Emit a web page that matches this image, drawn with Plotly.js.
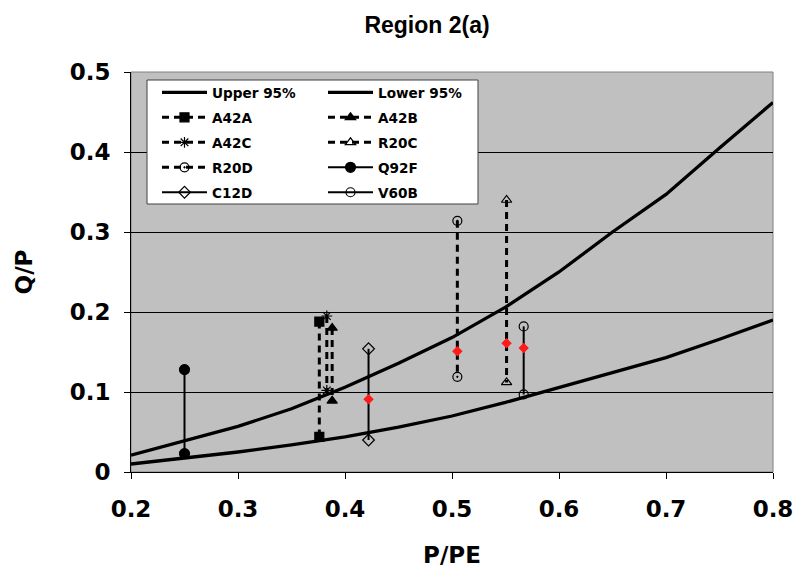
<!DOCTYPE html>
<html>
<head>
<meta charset="utf-8">
<script src="https://cdn.plot.ly/plotly-3.0.1.min.js"></script>
<style>html,body{margin:0;padding:0;background:#fff;}#chart{width:797px;height:573px;}</style>
</head>
<body>
<div id="chart"></div>
<script>
// ---- data ----
const pe = [0.2, 0.25, 0.3, 0.35, 0.4, 0.45, 0.5, 0.55, 0.6, 0.65, 0.7, 0.75, 0.8];
const upper95 = [0.021, 0.039, 0.057, 0.079, 0.106, 0.136, 0.168, 0.206, 0.25, 0.3, 0.347, 0.405, 0.462];
const lower95 = [0.010, 0.017, 0.025, 0.034, 0.044, 0.056, 0.070, 0.087, 0.106, 0.124, 0.143, 0.166, 0.190];

const specimenNames = ['A42A', 'A42B', 'A42C', 'R20C', 'R20D', 'Q92F', 'C12D', 'V60B'];
const specimenX     = [0.376, 0.388, 0.383, 0.551, 0.505, 0.25, 0.422, 0.567];
const specimenHigh  = [0.188, 0.180, 0.195, 0.340, 0.314, 0.128, 0.154, 0.182];
const specimenLow   = [0.044, 0.089, 0.102, 0.112, 0.119, 0.023, 0.040, 0.097];

const midX = [0.422, 0.505, 0.551, 0.567];
const midY = [0.091, 0.151, 0.161, 0.155];

const xTicks = [0.2, 0.3, 0.4, 0.5, 0.6, 0.7, 0.8];
const yTicks = [0, 0.1, 0.2, 0.3, 0.4, 0.5];

// ---- styles ----
const styles = {
  A42A: {symbol: 'square', dash: '7px,5px', legend: 'legend'},
  A42B: {symbol: 'triangle-up', dash: '7px,5px', legend: 'legend2'},
  A42C: {symbol: 'asterisk-open', dash: '7px,5px', legend: 'legend'},
  R20C: {symbol: 'triangle-up-open', dash: '7px,5px', legend: 'legend2'},
  R20D: {symbol: 'circle-open-dot', dash: '7px,5px', legend: 'legend'},
  Q92F: {symbol: 'circle', dash: 'solid', legend: 'legend2'},
  C12D: {symbol: 'diamond-open', dash: 'solid', legend: 'legend'},
  V60B: {symbol: 'circle-open', dash: 'solid', legend: 'legend2'}
};

const legendFont = {family: 'DejaVu Sans', size: 13.6, weight: 'bold', color: '#000'};

const traces = [];
traces.push({x: pe, y: upper95, name: 'Upper 95%', mode: 'lines', type: 'scatter',
  line: {color: '#000', width: 3.3}, legend: 'legend', legendgroup: 'g_up'});
traces.push({x: pe, y: lower95, name: 'Lower 95%', mode: 'lines', type: 'scatter',
  line: {color: '#000', width: 3.3}, legend: 'legend2', legendgroup: 'g_lo'});

specimenNames.forEach((n, i) => {
  const s = styles[n];
  const solid = s.dash === 'solid';
  traces.push({
    x: [specimenX[i], specimenX[i]],
    y: [specimenHigh[i], specimenLow[i]],
    name: n, type: 'scatter', mode: 'lines+markers',
    legend: s.legend, legendgroup: 'g_' + n,
    line: {color: '#000', width: solid ? 2 : 3, dash: s.dash},
    marker: {symbol: s.symbol, size: (s.symbol === 'circle' ? 10 : 9), color: '#000',
             line: {color: '#000', width: 1.2}},
    cliponaxis: false
  });
});

traces.push({x: midX, y: midY, name: 'mid', type: 'scatter', mode: 'markers',
  showlegend: false, marker: {symbol: 'diamond', size: 8, color: '#ff1a1a'}});

const W = 797, H = 573;
const L = 131, R = 24, T = 72, B = 101;
const pw = W - L - R, ph = H - T - B;
const px = v => (v - L) / pw;
const py = v => (H - B - v) / ph;

const tickFont = {family: 'DejaVu Sans', size: 23, weight: 'bold', color: '#000'};

const layout = {
  width: W, height: H,
  margin: {l: L, r: R, t: T, b: B, pad: 0},
  paper_bgcolor: '#ffffff',
  plot_bgcolor: '#c0c0c0',
  showlegend: true,
  title: {text: 'Region 2(a)', font: {family: 'Liberation Sans', size: 23, weight: 'bold', color: '#000'},
          xref: 'paper', x: px(427), xanchor: 'center', yref: 'container', y: 1 - 25 / H, yanchor: 'middle'},
  xaxis: {range: [0.2, 0.8], tickvals: xTicks, ticktext: xTicks.map(v => v.toFixed(1)),
          showgrid: false, zeroline: false, showline: true, linecolor: '#000', linewidth: 1,
          ticks: 'outside', ticklen: 6, tickcolor: '#000', tickfont: tickFont, ticklabelstandoff: 10,
          title: {text: 'P/PE', font: tickFont, standoff: 26}},
  yaxis: {range: [0, 0.5], tickvals: yTicks, ticktext: yTicks.map(v => v === 0 ? '0' : v.toFixed(1)),
          showgrid: true, gridcolor: '#000', gridwidth: 1, zeroline: false,
          showline: true, linecolor: '#000', linewidth: 1,
          ticks: 'outside', ticklen: 6, tickcolor: '#000', tickfont: tickFont, ticklabelstandoff: 9,
          title: {text: 'Q/P', font: tickFont, standoff: 30}},
  legend: {x: px(157), y: py(77), xanchor: 'left', yanchor: 'top', bgcolor: 'rgba(0,0,0,0)',
           borderwidth: 0, font: legendFont, itemwidth: 45, tracegroupgap: 4.3, traceorder: 'grouped'},
  legend2: {x: px(323), y: py(77), xanchor: 'left', yanchor: 'top', bgcolor: 'rgba(0,0,0,0)',
           borderwidth: 0, font: legendFont, itemwidth: 45, tracegroupgap: 4.3, traceorder: 'grouped'},
  shapes: [
    {type: 'rect', xref: 'paper', yref: 'paper', x0: 0, x1: 1, y0: 0, y1: 1,
     line: {color: '#808080', width: 1}, fillcolor: 'rgba(0,0,0,0)', layer: 'below'},
    {type: 'rect', xref: 'paper', yref: 'paper', x0: px(147), x1: px(478), y0: py(204), y1: py(80),
     line: {color: '#404040', width: 1}, fillcolor: '#ffffff', layer: 'above'}
  ]
};

Plotly.newPlot('chart', traces, layout, {displayModeBar: false, staticPlot: true});
</script>
</body>
</html>
